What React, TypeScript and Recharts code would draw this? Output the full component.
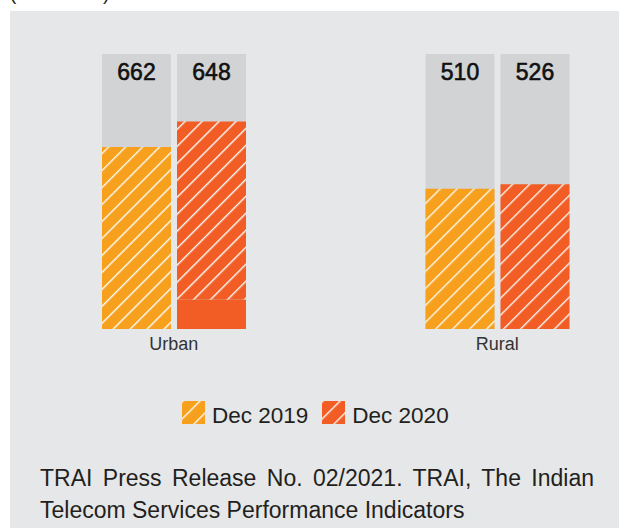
import React from 'react';
import { BarChart, Bar, XAxis, YAxis, LabelList } from 'recharts';

const CATEGORIES = ['Urban', 'Rural'];
const DEC_2019 = [662, 510];
const DEC_2020 = [648, 526];
// solid (unhatched) base drawn under the Dec 2020 urban bar
const DEC_2020_BASE = [107, 0];
const SERIES_NAMES = ['Dec 2019', 'Dec 2020'];
const Y_MAX = 1000;

const ORANGE = '#f6a01d';
const RED = '#f15d24';
const BAR_GRAY = '#d1d3d4';
const PANEL = '#e6e7e8';
const INK = '#231f20';
const FONT = '"Liberation Sans", Arial, Helvetica, sans-serif';

const data = CATEGORIES.map((cat, i) => ({
  cat,
  y2019: DEC_2019[i],
  y2020: DEC_2020[i],
  base2020: DEC_2020_BASE[i],
}));

const Hatch = ({ id, color }: { id: string; color: string }) => (
  <pattern id={id} patternUnits="userSpaceOnUse" width="12" height="12" patternTransform="rotate(45)">
    <rect width="12" height="12" fill={color} />
    <line x1="0.7" y1="0" x2="0.7" y2="12" stroke="#ffffff" strokeWidth={1.4} strokeOpacity={0.95} />
  </pattern>
);

const valueLabelStyle = { fontSize: 23, fill: '#111', fontFamily: FONT, stroke: '#111', strokeWidth: 0.6 };

export default function App() {
  const swatches = ['url(#hatchOrange)', 'url(#hatchRed)'];
  return (
    <div
      style={{
        position: 'fixed',
        left: 0,
        top: 0,
        width: 619,
        height: 528,
        overflow: 'hidden',
        background: '#ffffff',
        fontFamily: FONT,
      }}
    >
      <div style={{ position: 'absolute', left: 10, top: 11, right: 0, bottom: 0, background: PANEL }} />
      <div style={{ position: 'absolute', left: 10, top: -16, fontSize: 19, lineHeight: '19px', color: INK }}>
        (in minutes)
      </div>

      <div style={{ position: 'absolute', left: 0, top: 0 }}>
        <BarChart
          width={660}
          height={360}
          data={data}
          margin={{ top: 54, right: 1, left: 12, bottom: 1 }}
          barSize={69}
          barGap={6}
        >
          <defs>
            <Hatch id="hatchOrange" color={ORANGE} />
            <Hatch id="hatchRed" color={RED} />
          </defs>
          <XAxis
            xAxisId="main"
            dataKey="cat"
            axisLine={false}
            tickLine={false}
            height={30}
            tick={{ fontSize: 18, fill: '#333', fontFamily: FONT }}
          />
          <XAxis xAxisId="bg" dataKey="cat" hide height={0} />
          <YAxis hide domain={[0, Y_MAX]} />

          <Bar xAxisId="bg" dataKey={() => Y_MAX} fill={BAR_GRAY} isAnimationActive={false} legendType="none">
            <LabelList dataKey="y2019" position="insideTop" offset={10} style={valueLabelStyle} />
          </Bar>
          <Bar xAxisId="bg" dataKey={() => Y_MAX} fill={BAR_GRAY} isAnimationActive={false} legendType="none">
            <LabelList dataKey="y2020" position="insideTop" offset={10} style={valueLabelStyle} />
          </Bar>

          <Bar xAxisId="main" dataKey="y2019" stackId="o" name={SERIES_NAMES[0]} fill="url(#hatchOrange)" isAnimationActive={false} />
          <Bar xAxisId="main" dataKey="base2020" stackId="r" fill={RED} isAnimationActive={false} legendType="none" />
          <Bar xAxisId="main" dataKey="y2020" stackId="r" name={SERIES_NAMES[1]} fill="url(#hatchRed)" isAnimationActive={false} />
        </BarChart>
      </div>

      <div style={{ position: 'absolute', left: 182, top: 401, display: 'flex', alignItems: 'flex-start' }}>
        {SERIES_NAMES.map((name, i) => (
          <div key={name} style={{ display: 'flex', alignItems: 'flex-start', marginRight: 14 }}>
            <svg width={23} height={23} style={{ display: 'block', marginRight: 7 }}>
              <rect width={23} height={23} fill={swatches[i]} />
            </svg>
            <span style={{ fontSize: 22.5, lineHeight: '23px', color: INK, position: 'relative', top: 3 }}>{name}</span>
          </div>
        ))}
      </div>

      <div
        style={{
          position: 'absolute',
          left: 40,
          top: 462,
          width: 554,
          fontSize: 23,
          lineHeight: '32px',
          textAlign: 'justify',
          color: INK,
        }}
      >
        TRAI Press Release No. 02/2021. TRAI, The Indian Telecom Services Performance Indicators
      </div>
    </div>
  );
}
